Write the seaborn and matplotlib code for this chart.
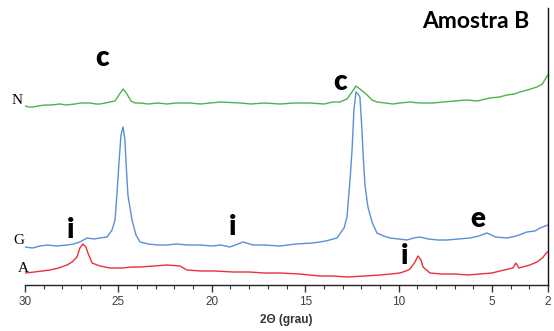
import matplotlib
matplotlib.use("Agg")
import matplotlib.pyplot as plt
import seaborn as sns
import pandas as pd
from matplotlib.ticker import MultipleLocator

sns.set_theme(style="white")
plt.rcParams['font.family'] = ['Liberation Sans', 'DejaVu Sans']
plt.rcParams['text.color'] = 'black'

# ---- data (2θ in degrees, intensity in arbitrary units, traces offset) ----
n_theta = [30.0, 29.8, 29.57, 29.3, 28.93, 28.6, 28.13, 27.8, 27.32, 27.0, 26.52, 26.2, 25.99, 25.7,
           25.45, 25.18, 24.97, 24.75, 24.54, 24.33, 24.1, 23.84, 23.4, 22.9, 22.40, 21.9, 21.17, 20.6,
           20.10, 19.5, 18.49, 17.9, 17.2, 16.35, 15.6, 14.74, 14.0, 13.5, 13.14, 12.76, 12.49, 12.28,
           12.07, 11.74, 11.42, 11.16, 10.7, 10.3, 9.93, 9.4, 8.9, 8.16, 7.6, 7.0, 6.34, 5.8, 5.11, 4.6,
           4.20, 3.8, 3.50, 3.1, 2.59, 2.3, 2.05, 2.0]
n_int = [179, 178, 178, 179, 180, 180, 181, 180, 181, 182, 182, 181, 181, 182,
         183, 184, 190, 196, 191, 184, 182, 182, 181, 182, 181, 182, 182, 181,
         182, 183, 182, 181, 182, 181, 182, 182, 181, 183, 183, 186, 193, 199,
         196, 191, 185, 183, 182, 181, 182, 183, 182, 182, 183, 184, 185, 184, 187, 188,
         190, 191, 193, 195, 198, 201, 209, 210]

g_theta = [30.0, 29.6, 29.20, 28.8, 28.3, 27.75, 27.4, 27.06, 26.68, 26.3, 25.99, 25.61, 25.34, 25.18,
           25.08, 24.97, 24.86, 24.75, 24.65, 24.59, 24.49, 24.27, 24.06, 23.84, 23.4, 22.9, 22.40,
           21.9, 21.3, 20.63, 20.0, 19.5, 19.03, 18.6, 18.33, 17.79, 17.2, 16.35, 15.5, 14.58, 13.9,
           13.30, 12.92, 12.76, 12.60, 12.49, 12.39, 12.28, 12.17, 12.07, 11.96, 11.91, 11.80, 11.64,
           11.42, 11.16, 10.8, 10.46, 10.0, 9.55, 9.2, 8.85, 8.4, 7.9, 7.41, 6.8, 6.18, 5.7, 5.27,
           4.8, 4.20, 3.7, 3.13, 2.7, 2.43, 2.0]
g_int = [38, 37, 39, 40, 39, 40, 41, 43, 47, 46, 47, 48, 55, 65,
         90, 122, 150, 158, 145, 122, 90, 65, 50, 43, 41, 40, 40,
         41, 40, 40, 39, 40, 38, 41, 43, 40, 40, 39, 41, 42, 44,
         47, 57, 68, 105, 135, 175, 193, 191, 188, 155, 135, 100, 78,
         63, 52, 49, 47, 46, 45, 47, 48, 46, 45, 45, 46, 47, 49, 52,
         48, 47, 49, 53, 54, 57, 60]

a_theta = [30.0, 29.5, 28.66, 28.2, 27.75, 27.48, 27.22, 27.06, 26.90, 26.74, 26.63, 26.41, 25.99,
           25.45, 24.8, 24.3, 23.84, 23.1, 22.40, 21.70, 21.33, 20.6, 19.8, 18.87, 18.0, 17.2, 16.35,
           15.3, 14.21, 13.5, 12.76, 11.8, 10.99, 10.4, 9.93, 9.6, 9.39, 9.12, 8.96, 8.80,
           8.69, 8.32, 7.7, 6.98, 6.3, 5.64, 5.0, 4.57, 3.88, 3.72, 3.56, 2.97, 2.59, 2.3, 2.05, 2.0]
a_int = [12, 13, 15, 17, 20, 23, 28, 37, 41, 38, 32, 22, 19,
         17, 17, 18, 18, 19, 20, 19, 15, 14, 14, 13, 13, 12, 12,
         11, 9, 9, 8, 9, 10, 11, 12, 14, 16, 23, 29, 25,
         18, 12, 11, 11, 10, 11, 12, 14, 17, 22, 17, 20, 23, 27, 33, 33]

trace_names = ["N", "G", "A"]
trace_colors = ["#4db34d", "#5b8fd6", "#e8313a"]

df = pd.concat([
    pd.DataFrame({"theta": n_theta, "I": n_int, "trace": "N"}),
    pd.DataFrame({"theta": g_theta, "I": g_int, "trace": "G"}),
    pd.DataFrame({"theta": a_theta, "I": a_int, "trace": "A"}),
])

fig = plt.figure(figsize=(5.54, 3.31), dpi=100)
ax = fig.add_axes([25/554, 46/331, 523/554, 277/331])

sns.lineplot(data=df, x="theta", y="I", hue="trace", hue_order=trace_names,
             palette=trace_colors, linewidth=1.0, legend=False, ax=ax, sort=False)

ax.set_xlim(30, 2)
ax.set_ylim(0, 277)
ax.set_yticks([])
ax.set_ylabel("")
ax.xaxis.set_minor_locator(MultipleLocator(1))
ax.set_xticks([30, 25, 20, 15, 10, 5, 2])
ax.set_xticklabels(["30", "25", "20", "15", "10", "5", "2"])
ax.tick_params(axis="x", which="major", direction="out", length=5, width=1,
               color="#333333", labelsize=8.5, labelcolor="#404040", pad=3, bottom=True)
ax.tick_params(axis="x", which="minor", direction="out", length=3, width=0.8,
               color="#333333", bottom=True)
ax.set_xlabel("2Θ (grau)", fontsize=8.5, fontweight="bold", color="#333333", labelpad=4)

for s in ["top", "left"]:
    ax.spines[s].set_visible(False)
ax.spines["bottom"].set_color("#222222")
ax.spines["bottom"].set_linewidth(1.0)
ax.spines["right"].set_color("#111111")
ax.spines["right"].set_linewidth(1.0)

# trace labels
serif = ["Liberation Serif", "DejaVu Serif"]
lab = dict(fontsize=11, family=serif, ha="center", va="center", clip_on=False, color="black")
ax.text(30.42, 185, "N", **lab)
ax.text(30.33, 45, "G", **lab)
ax.text(30.1, 17, "A", **lab)

# peak markers
bold = dict(fontweight="heavy", family=["Lato", "DejaVu Sans"], ha="center", va="center",
            color="black")
ax.text(25.88, 227, "c", fontsize=20, **bold)
ax.text(13.14, 203, "c", fontsize=20, **bold)
ax.text(27.54, 55, "i", fontsize=20, **bold)
ax.text(18.87, 58, "i", fontsize=20, **bold)
ax.text(9.66, 29, "i", fontsize=20, **bold)
ax.text(5.75, 66, "e", fontsize=20, **bold)
ax.text(5.86, 264, "Amostra B", fontsize=16.5, fontweight="bold", family=["Lato", "DejaVu Sans"],
        ha="center", va="center", color="black")

fig.savefig("out.png", dpi=100, facecolor="white")
